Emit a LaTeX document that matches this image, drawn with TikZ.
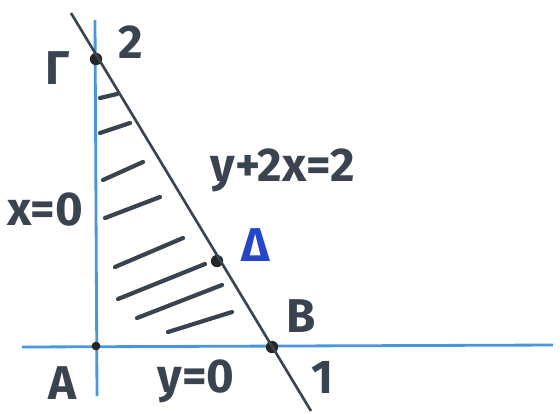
\documentclass[tikz,border=0pt]{standalone}
\usepackage{fontspec}
\setmainfont{Fira Sans}
\usepackage{xcolor}
\usepackage{tikz}
\usetikzlibrary{positioning,calc}

\definecolor{axisblue}{HTML}{4A95DE}
\definecolor{penink}{HTML}{3A4450}
\definecolor{deltablue}{HTML}{2446C8}

\begin{document}
\begin{tikzpicture}[
    x=0.02cm, y=-0.02cm,
    axis/.style={axisblue, line width=1.6pt},
    edge/.style={penink, line width=1.5pt},
    hatch/.style={penink, line width=2.4pt, line cap=round},
    pt/.style={circle, fill=black!85, inner sep=0pt, minimum size=7pt},
    lbl/.style={font=\fontsize{27}{31}\selectfont\bfseries, text=penink, inner sep=1pt}
]
\useasboundingbox (0,0) rectangle (560,413);
% axes
\coordinate (vtop) at (95,20);
\coordinate (vbot) at (97,396);
\coordinate (hleft) at (22,347);
\coordinate (hright) at (553,345);
\draw[axis] (vtop) -- (vbot);
\draw[axis] (hleft) -- (hright);
% points
\node[pt] (G) at (96,59) {};
\node[pt] (D) at (217,261) {};
\node[pt] (B) at (272,347) {};
\node[pt, minimum size=5pt] (A) at (96,346) {};
% line y+2x=2
\coordinate (ltop) at (71,13);
\coordinate (lbot) at (311,411);
\draw[edge] (ltop) -- (lbot);
% hatching
\foreach \xa/\ya/\xb/\yb in {100/98/117/94, 100/133/130/123, 103/180/143/162,
    105/218/160/197, 115/267/183/238, 118/299/205/264, 137/318/222/285, 168/332/232/312}
  \draw[hatch] (\xa,\ya) -- (\xb,\yb);
% labels
\node[lbl] (lG) at (58,68) {Γ};
\node[lbl] (l2) at (131,42) {2};
\node[lbl] (leq) at (283,170) {y+2x=2};
\node[lbl] (lx) at (45,210) {x=0};
\node[lbl, text=deltablue] (lD) at (256,245) {Δ};
\node[lbl] (lB) at (301,316) {B};
\node[lbl] (lA) at (62,383) {A};
\node[lbl] (ly) at (196,381) {y=0};
\node[lbl] (l1) at (322,377) {1};
\end{tikzpicture}
\end{document}
